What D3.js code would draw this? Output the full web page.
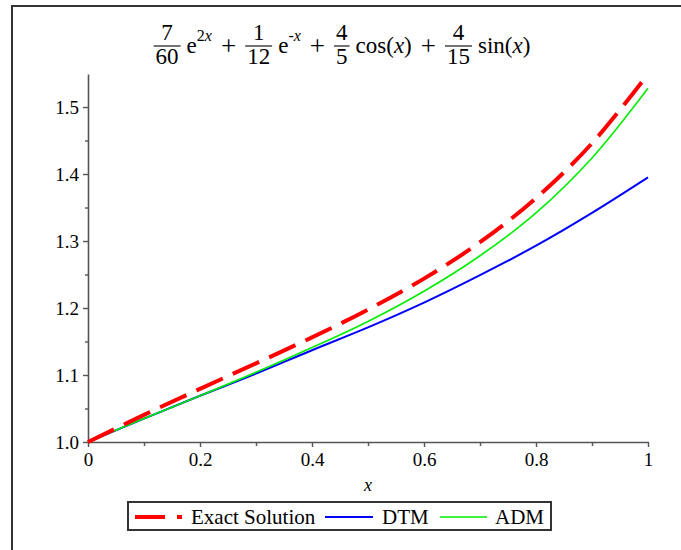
<!DOCTYPE html>
<html>
<head>
<meta charset="utf-8">
<script src="https://cdn.jsdelivr.net/npm/d3@7"></script>
<style>
  body { margin: 0; background: #fff; }
  text { font-family: "Liberation Serif", "Times New Roman", serif; fill: #000; }
</style>
</head>
<body>
<div id="chart"></div>
<script>
// values
const xValues = [0, 0.1, 0.2, 0.3, 0.4, 0.5, 0.6, 0.7, 0.8, 0.9, 1.0];
const exactValues = [1.0, 1.0405, 1.0793, 1.1174, 1.1562, 1.1976, 1.2439, 1.2982, 1.3640, 1.4459, 1.5493];
const dtmValues = [1.0, 1.035, 1.069, 1.102, 1.137, 1.171, 1.208, 1.249, 1.293, 1.342, 1.395];
const admValues = [1.0, 1.035, 1.069, 1.104, 1.141, 1.180, 1.225, 1.278, 1.342, 1.424, 1.528];

const xTicks = [0, 0.2, 0.4, 0.6, 0.8, 1];
const xMinor = [0.1, 0.3, 0.5, 0.7, 0.9];
const yTicks = [1.0, 1.1, 1.2, 1.3, 1.4, 1.5];
const yMinor = [1.05, 1.15, 1.25, 1.35, 1.45];

const seriesNames = ["Exact Solution", "DTM", "ADM"];

const width = 681;
const height = 550;

const svg = d3.select("#chart")
    .append("svg")
    .attr("width", width)
    .attr("height", height);

// outer frame (only left and top edges are inside the picture)
svg.append("rect")
    .attr("x", 12).attr("y", 6)
    .attr("width", 700).attr("height", 600)
    .attr("fill", "none")
    .attr("stroke", "#333")
    .attr("stroke-width", 2);

const x = d3.scaleLinear().domain([0, 1]).range([88, 648]);
const y = d3.scaleLinear().domain([1, 1.5493]).range([442, 74]);

// title: the formula, laid out left to right then centred
const title = svg.append("g").attr("font-size", 23);
let cursor = 0;
const baseY = 53;
function frac(num, den) {
    const n = title.append("text").attr("y", 40).attr("text-anchor", "middle").text(num);
    const d = title.append("text").attr("y", 64).attr("text-anchor", "middle").text(den);
    const w = Math.max(n.node().getComputedTextLength(), d.node().getComputedTextLength()) + 4;
    const cx = cursor + w / 2;
    n.attr("x", cx);
    d.attr("x", cx);
    title.append("line")
        .attr("x1", cursor).attr("x2", cursor + w)
        .attr("y1", 46).attr("y2", 46)
        .attr("stroke", "#000").attr("stroke-width", 1.1);
    cursor += w;
}
function word(parts, opts = {}) {
    const t = title.append("text").attr("x", cursor).attr("y", opts.y || baseY);
    if (opts.size) t.attr("font-size", opts.size);
    parts.forEach(p => {
        t.append("tspan").attr("font-style", p.italic ? "italic" : null).text(p.s);
    });
    cursor += t.node().getComputedTextLength();
}
function gap(g) { cursor += g; }

frac("7", "60"); gap(6);
word([{ s: "e" }]); gap(0);
word([{ s: "2" }, { s: "x", italic: true }], { y: 41, size: 16 }); gap(9);
word([{ s: "+" }], { y: 55, size: 27 }); gap(9);
frac("1", "12"); gap(6);
word([{ s: "e" }]); gap(0);
word([{ s: "-" }, { s: "x", italic: true }], { y: 41, size: 16 }); gap(9);
word([{ s: "+" }], { y: 55, size: 27 }); gap(9);
frac("4", "5"); gap(6);
word([{ s: "cos(" }, { s: "x", italic: true }, { s: ")" }]); gap(9);
word([{ s: "+" }], { y: 55, size: 27 }); gap(9);
frac("4", "15"); gap(6);
word([{ s: "sin(" }, { s: "x", italic: true }, { s: ")" }]);
title.attr("transform", `translate(${342 - cursor / 2},0)`);

// axes
const axisColor = "#555";
const xAxis = svg.append("g")
    .attr("transform", `translate(0,${y(1)})`)
    .call(d3.axisBottom(x).tickValues(xTicks).tickSize(5).tickSizeOuter(0)
        .tickFormat(d => d === 0 ? "0" : d === 1 ? "1" : d3.format(".1f")(d)));
svg.append("g")
    .attr("transform", `translate(0,${y(1)})`)
    .call(d3.axisBottom(x).tickValues(xMinor).tickSize(4).tickFormat(""))
    .select(".domain").remove();

const yAxis = svg.append("g")
    .attr("transform", `translate(${x(0)},0)`)
    .call(d3.axisLeft(y).tickValues(yTicks).tickSize(5).tickSizeOuter(0)
        .tickFormat(d3.format(".1f")));
svg.append("g")
    .attr("transform", `translate(${x(0)},0)`)
    .call(d3.axisLeft(y).tickValues(yMinor).tickSize(3).tickFormat(""))
    .select(".domain").remove();

svg.selectAll(".domain").attr("stroke", axisColor).attr("stroke-width", 1.6);
svg.selectAll(".tick line").attr("stroke", axisColor).attr("stroke-width", 1.4);
svg.selectAll(".tick text")
    .attr("font-family", "Liberation Serif, serif")
    .attr("font-size", 19)
    .attr("fill", "#000");
xAxis.selectAll(".tick text").attr("dy", "0.85em");
yAxis.selectAll(".tick text").attr("x", -9);

svg.append("text")
    .attr("x", 368).attr("y", 491)
    .attr("text-anchor", "middle")
    .attr("font-size", 18)
    .attr("font-style", "italic")
    .text("x");

// curves
const line = d3.line()
    .x((d, i) => x(xValues[i]))
    .y(d => y(d))
    .curve(d3.curveCatmullRom);

const plot = svg.append("g");
plot.append("path").datum(dtmValues)
    .attr("d", line).attr("fill", "none")
    .attr("stroke", "#0000ff").attr("stroke-width", 2);
plot.append("path").datum(admValues)
    .attr("d", line).attr("fill", "none")
    .attr("stroke", "#00ee00").attr("stroke-width", 1.6);
plot.append("path").datum(exactValues)
    .attr("d", line).attr("fill", "none")
    .attr("stroke", "#ff0000").attr("stroke-width", 4)
    .attr("stroke-dasharray", "29,11");

// legend
const legend = svg.append("g");
legend.append("rect")
    .attr("x", 128).attr("y", 502)
    .attr("width", 423).attr("height", 28)
    .attr("fill", "#fff")
    .attr("stroke", "#333").attr("stroke-width", 2);

const legendItems = [
    { name: seriesNames[0], color: "#ff0000", w: 4, dash: "30,12", x1: 135, x2: 182, tx: 191 },
    { name: seriesNames[1], color: "#0000ff", w: 2, dash: null, x1: 325, x2: 373, tx: 382 },
    { name: seriesNames[2], color: "#00ee00", w: 1.6, dash: null, x1: 440, x2: 487, tx: 495 }
];
legendItems.forEach(d => {
    legend.append("line")
        .attr("x1", d.x1).attr("x2", d.x2)
        .attr("y1", 517).attr("y2", 517)
        .attr("stroke", d.color).attr("stroke-width", d.w)
        .attr("stroke-dasharray", d.dash);
    legend.append("text")
        .attr("x", d.tx).attr("y", 524)
        .attr("font-size", 21)
        .text(d.name);
});
</script>
</body>
</html>
